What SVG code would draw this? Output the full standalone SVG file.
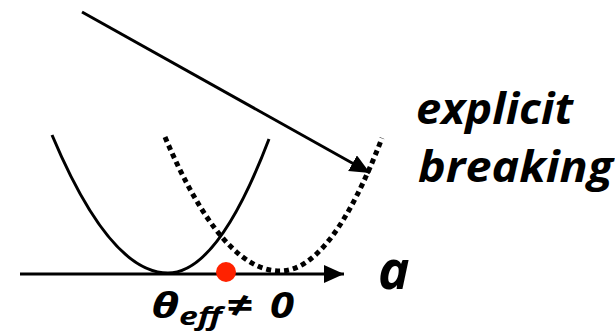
<svg xmlns="http://www.w3.org/2000/svg" width="615" height="335" viewBox="0 0 615 335">
<style>
.solid{fill:none;stroke:#000;stroke-width:3}
.dot{fill:none;stroke:#000;stroke-width:5;stroke-dasharray:5 4}
.lbl{font-family:"Open Sans","Liberation Sans",sans-serif;font-weight:bold;font-style:italic;fill:#000}
</style>
<defs>
<marker id="ah" markerUnits="userSpaceOnUse" markerWidth="22" markerHeight="20" refX="20" refY="9" orient="auto">
<path d="M0,0 L20,9 L0,18 Z" fill="#000"/>
</marker>
</defs>
<g id="connectors">
<line x1="82" y1="12" x2="370" y2="173" stroke="#000" stroke-width="3" marker-end="url(#ah)"/>
<line x1="20" y1="274" x2="344" y2="274" stroke="#000" stroke-width="3" marker-end="url(#ah)"/>
</g>
<g id="solid-potential">
<path class="solid" d="M52,135 Q110,273 168,273 Q218,273 269,139"/>
</g>
<g id="dotted-potential">
<path class="dot" d="M165,137 Q222,271 280,271 Q331,271 382,138"/>
</g>
<g id="red-dot">
<circle cx="226" cy="272" r="10" fill="#ff2200"/>
</g>
<g id="label-a">
<text class="lbl" x="378" y="289" font-size="53">a</text>
</g>
<g id="label-explicit">
<text class="lbl" x="416" y="124" font-size="43" textLength="157" lengthAdjust="spacingAndGlyphs">explicit</text>
<text class="lbl" x="418" y="182" font-size="43" textLength="195" lengthAdjust="spacingAndGlyphs">breaking</text>
</g>
<g id="label-theta">
<text class="lbl" x="151" y="318" font-size="35" textLength="28" lengthAdjust="spacingAndGlyphs">θ</text>
<text class="lbl" x="179" y="325" font-size="25" textLength="43" lengthAdjust="spacingAndGlyphs">eff</text>
<text class="lbl" x="226" y="318" font-size="36" textLength="27" lengthAdjust="spacingAndGlyphs">≠</text>
<text class="lbl" x="270" y="318" font-size="36" textLength="24" lengthAdjust="spacingAndGlyphs">0</text>
</g>
</svg>
